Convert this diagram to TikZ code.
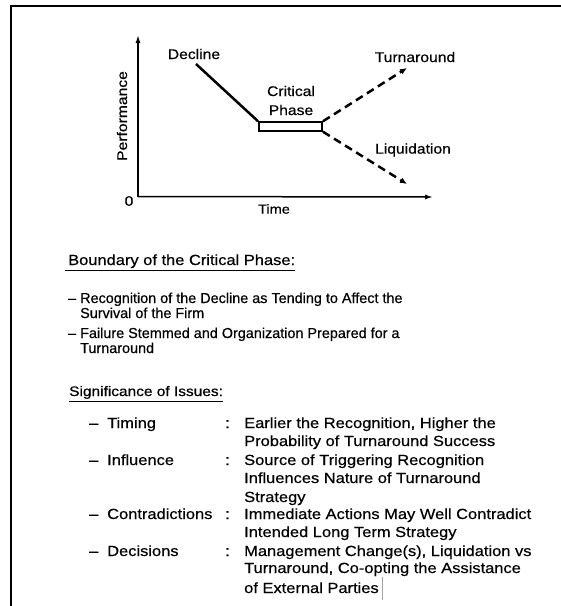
\documentclass[tikz,border=0pt]{standalone}
\usepackage{fontspec}
\setmainfont{Liberation Sans}[FakeStretch=1.12, FakeBold=0.5]
\newfontfamily\itemfont{Liberation Sans}[Ligatures=TeX, FakeStretch=1.0, FakeBold=0.5]
\usetikzlibrary{arrows.meta,calc}
\begin{document}
\begin{tikzpicture}[x=1pt,y=-1pt,
  lbl/.style={font=\fontsize{14}{16}\selectfont, inner sep=0pt},
  txt/.style={inner sep=0pt, anchor=base west},
  small/.style={txt, font=\itemfont\fontsize{14.4}{15}\selectfont},
  large/.style={txt, font=\fontsize{14.7}{18}\selectfont},
  axisline/.style={line width=1.5, -{Latex[length=8pt,width=5pt]}},
  trend/.style={line width=2.5},
  dashtrend/.style={line width=2.5, dash pattern=on 8pt off 5pt, -{Latex[length=7pt,width=6pt]}},
  uline/.style={line width=1},
  framing/.style={line width=2.6}]
\useasboundingbox (0,0) rectangle (561,606);

% page frame (open at right and bottom)
\coordinate (fl) at (11,606);
\coordinate (fc) at (11,6);
\coordinate (fr) at (561,6);
\draw[framing] (fl) -- (fc) -- (fr);

% axes
\coordinate (O) at (138,196.5);
\coordinate (ytip) at (138,35);
\coordinate (xtip) at (433,197);
\draw[axisline] (O) -- (ytip);
\draw[axisline] (O) -- (xtip);
\node[lbl] (zero) at (129,201) {0};
\node[lbl, font=\fontsize{13}{15}\selectfont] (time) at (274,209) {Time};
\node[lbl, rotate=90] (perf) at (122,116) {Performance};

% decline and critical phase
\node[draw, line width=2, minimum width=63pt, minimum height=8.5pt, inner sep=0pt] (cp) at (290.5,126.5) {};
\coordinate (dstart) at (196,64);
\draw[trend] (dstart) -- (cp.north west);
\node[lbl] (decl) at (194,54) {Decline};
\node[lbl] (crit) at (291,91) {Critical};
\node[lbl] (phase) at (291,110) {Phase};

% possible outcomes
\coordinate (ttip) at (407,68);
\coordinate (ltip) at (407,184);
\draw[dashtrend] (cp.north east) -- (ttip);
\draw[dashtrend] (cp.south east) -- (ltip);
\node[lbl] (turn) at (415,57) {Turnaround};
\node[lbl] (liq) at (413,150) {Liquidation};

% boundary of the critical phase
\node[large] (h1) at (68,265) {Boundary of the Critical Phase:};
\draw[uline] ($(h1.base west)+(-3,5)$) -- ($(h1.base east)+(0,5)$);
\node[small] (d1) at (68,303) {–};
\node[small] (b1a) at (80,303) {Recognition of the Decline as Tending to Affect the};
\node[small] (b1b) at (80,318) {Survival of the Firm};
\node[small] (d2) at (68,338) {–};
\node[small] (b2a) at (80,338) {Failure Stemmed and Organization Prepared for a};
\node[small] (b2b) at (80,353) {Turnaround};

% significance of issues
\node[txt, font=\fontsize{13.8}{16}\selectfont] (h2) at (69,396) {Significance of Issues:};
\draw[uline] ($(h2.base west)+(0,5)$) -- ($(h2.base east)+(0,5)$);

\node[large] (k1) at (89,428) {–};
\node[large] (l1) at (107,428) {Timing};
\node[large] (c1) at (225,428) {:};
\node[large] (r1a) at (244,428) {Earlier the Recognition, Higher the};
\node[large] (r1b) at (244,446) {Probability of Turnaround Success};

\node[large] (k2) at (89,465) {–};
\node[large] (l2) at (107,465) {Influence};
\node[large] (c2) at (225,465) {:};
\node[large] (r2a) at (244,465) {Source of Triggering Recognition};
\node[large] (r2b) at (244,483) {Influences Nature of Turnaround};
\node[large] (r2c) at (244,502) {Strategy};

\node[large] (k3) at (89,519) {–};
\node[large] (l3) at (107,519) {Contradictions};
\node[large] (c3) at (225,519) {:};
\node[large] (r3a) at (244,519) {Immediate Actions May Well Contradict};
\node[large] (r3b) at (244,537) {Intended Long Term Strategy};

\node[large] (k4) at (89,556) {–};
\node[large] (l4) at (107,556) {Decisions};
\node[large] (c4) at (225,556) {:};
\node[large] (r4a) at (244,556) {Management Change(s), Liquidation vs};
\node[large] (r4b) at (244,573) {Turnaround, Co-opting the Assistance};
\node[large] (r4c) at (244,593) {of External Parties};

% text cursor mark
\coordinate (cur1) at (382,577);
\coordinate (cur2) at (382,600);
\draw[gray!70, line width=0.6] (cur1) -- (cur2);
\end{tikzpicture}
\end{document}
